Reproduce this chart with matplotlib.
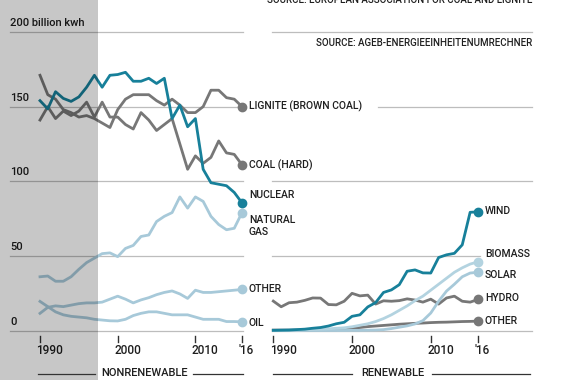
import matplotlib
matplotlib.use('Agg')
import matplotlib.pyplot as plt
from matplotlib.lines import Line2D

plt.rcParams['font.family'] = ['Roboto', 'DejaVu Sans']
plt.rcParams['font.weight'] = 'medium'

# --- data (billion kWh), 1990-2016 ---
years = list(range(1990, 2017))

# nonrenewable
nuclear = [154, 148.5, 160, 155.5, 153.5, 156.5, 163, 171, 163, 171, 171.5, 173, 167, 167, 169, 165.5,
           169, 142, 151, 136.5, 142, 108, 99, 98, 97, 92.5, 85.5]
lignite = [171, 158, 155, 148, 146, 143, 144, 142, 139, 136, 148, 155, 158, 158, 158, 154,
           151, 155, 151, 146, 146, 150, 161, 161, 156, 155, 150]
coal = [141, 150, 142, 147, 144, 147, 153, 143, 153, 143, 143, 138, 135, 146, 141, 134,
        138, 142, 125, 108, 117, 112, 116, 127, 119, 118, 111]
gas = [36, 36.5, 33, 33, 36, 41, 45.5, 48.5, 51.5, 52, 49.5, 55, 57, 63, 64, 73,
       76.5, 79, 89.5, 82, 89.5, 86.5, 76.5, 71, 67.5, 68.5, 79]
other_nr = [11.5, 15.5, 16.5, 16, 17, 18, 18.5, 18.5, 19, 21, 23, 21, 18.5, 20.5, 22, 24,
            25.5, 26.5, 24.5, 21.5, 27, 25.5, 25.5, 26, 26.5, 27, 27.5]
oil = [19.5, 16, 12.5, 10.5, 9.5, 9, 8.5, 7.5, 7, 6.5, 6.4, 7.5, 10, 11.5, 12.5, 12.5,
       11.5, 10.5, 10.5, 10.5, 9, 7.5, 7.5, 7.5, 6, 6, 5.8]

# renewable
wind = [0.1, 0.2, 0.3, 0.6, 0.9, 1.5, 2.0, 3.0, 4.5, 5.5, 9.5, 10.5, 15.8, 18.7, 25.5, 27.2,
        30.7, 39.7, 40.6, 38.6, 38.5, 48.9, 50.7, 51.7, 57.4, 79.2, 79.5]
biomass = [0.2, 0.3, 0.4, 0.5, 0.6, 0.7, 0.9, 1.1, 1.5, 1.8, 2.5, 3.5, 4.5, 6, 8, 10.5,
           13.5, 16.5, 20, 23, 27, 31, 35, 39, 42, 44.5, 46]
solar = [0, 0, 0, 0, 0, 0, 0, 0, 0, 0, 0.1, 0.1, 0.2, 0.3, 0.6, 1.3,
         2.2, 3.1, 4.4, 6.6, 11.7, 19.6, 26.4, 31, 36, 38.5, 39]
hydro = [19.7, 15.9, 18.6, 19.0, 20.2, 21.8, 21.7, 17.4, 17.2, 19.6, 24.9, 23.2, 23.7, 17.7, 19.9, 19.6,
         20.0, 21.2, 20.4, 19.0, 21.0, 17.7, 21.8, 23.0, 19.6, 19.0, 20.8]
other_r = [0.3, 0.3, 0.3, 0.4, 0.4, 0.4, 0.5, 0.5, 0.5, 1.0, 1.5, 2.0, 2.6, 3.0, 3.4, 3.8,
           4.2, 4.5, 4.8, 5.0, 5.3, 5.5, 5.6, 5.8, 6.0, 6.1, 6.3]

grid_vals = [200, 150, 100, 50, 0]
grid_labels = ['200 billion kwh', '150', '100', '50', '0']
tick_years = [1990, 2000, 2010, 2016]
tick_labels = ['1990', '2000', '2010', "'16"]

TEAL = '#17809a'
GRAY = '#777777'
LIGHT = '#a7c9d9'
LIGHT2 = '#b3d3e0'
GRID = '#bdbdbd'
TXT = '#1e1e1e'

W, H = 563, 380
fig = plt.figure(figsize=(W / 100, H / 100), dpi=100)

# pixel geometry of the two panels
ppu = 1.4925           # px per billion kwh
y0px = 330.5           # px of value 0
ylim = (-(H - y0px) / ppu, y0px / ppu)

axL = fig.add_axes([0, 0, 250 / W, 1])
axR = fig.add_axes([250 / W, 0, (W - 250) / W, 1])
pxyL, x90L = 7.77, 40.0
pxyR, x90R = 7.873, 273.3
axL.set_xlim(1990 - x90L / pxyL, 1990 + (250 - x90L) / pxyL)
axR.set_xlim(1990 - (x90R - 250) / pxyR, 1990 + (W - x90R) / pxyR)
for ax in (axL, axR):
    ax.set_ylim(*ylim)
    ax.axis('off')
    ax.patch.set_alpha(0)


def yrL(px):
    return 1990 + (px - x90L) / pxyL


def yrR(px):
    return 1990 + (px - x90R) / pxyR


# gridlines
for v in grid_vals:
    axL.plot([yrL(10), yrL(243)], [v, v], color=GRID, lw=0.9, zorder=1)
axR.plot([yrR(271.5), yrR(532)], [200, 200], color=GRID, lw=0.9, zorder=1)
axR.plot([yrR(378), yrR(532)], [150, 150], color=GRID, lw=0.9, zorder=1)
axR.plot([yrR(271.5), yrR(532)], [100, 100], color=GRID, lw=0.9, zorder=1)
axR.plot([yrR(271.5), yrR(480)], [50, 50], color=GRID, lw=0.9, zorder=1)
axR.plot([yrR(271.5), yrR(532)], [0, 0], color=GRID, lw=0.9, zorder=1)

for v, lab in zip(grid_vals, grid_labels):
    axL.text(yrL(10), v + 6, lab, fontsize=8, color=TXT, ha='left', va='center')

# ticks + tick labels
for ax in (axL, axR):
    for yr, lab in zip(tick_years, tick_labels):
        ax.plot([yr, yr], [-3.9, -7.7], color='#333333', lw=1)
        ax.annotate(lab, (yr, -13.1), xytext=(-2.6, 0), textcoords='offset points',
                    fontsize=8.5, color=TXT, ha='left', va='center')


def series(ax, vals, color, label, dy=0, va='center', z=3):
    ax.plot(years, vals, color=color, lw=2, zorder=z, solid_joinstyle='round')
    ax.plot(years[-1], vals[-1], 'o', color=color, ms=6, zorder=z)
    ax.annotate(label, (years[-1], vals[-1]), xytext=(5, dy), textcoords='offset points',
                fontsize=7.5, color=TXT, ha='left', va=va, linespacing=1.15,
                annotation_clip=False)


series(axL, lignite, GRAY, 'LIGNITE (BROWN COAL)')
series(axL, coal, GRAY, 'COAL (HARD)')
series(axL, gas, LIGHT, 'NATURAL\nGAS', dy=-2, va='top')
series(axL, other_nr, LIGHT, 'OTHER')
series(axL, oil, LIGHT, 'OIL', dy=-0.5)
series(axL, nuclear, TEAL, 'NUCLEAR', dy=5.5, z=4)

series(axR, hydro, GRAY, 'HYDRO', dy=1)
series(axR, other_r, GRAY, 'OTHER')
series(axR, solar, LIGHT, 'SOLAR', dy=-2)
series(axR, biomass, LIGHT2, 'BIOMASS', dy=5.5)
series(axR, wind, TEAL, 'WIND', dy=0.5, z=4)

# grey shading over the early years
axL.axvspan(axL.get_xlim()[0], yrL(98.3), color='black', alpha=0.22, lw=0, zorder=10)


def fx(px):
    return px / W


def fy(py):
    return 1 - py / H


# section labels
fig.text(fx(145), fy(373), 'NONRENEWABLE', fontsize=8, color=TXT, ha='center', va='center')
fig.text(fx(392.5), fy(373), 'RENEWABLE', fontsize=8, color=TXT, ha='center', va='center')
for a, b in ((37.7, 95), (193.3, 242.7), (273.3, 351.7), (431.7, 530)):
    fig.add_artist(Line2D([fx(a), fx(b)], [fy(373.5), fy(373.5)], color='#333333', lw=0.9))

# sources (the upper one is cut by the top edge, as in the original)
fig.text(fx(532), fy(0), 'SOURCE: EUROPEAN ASSOCIATION FOR COAL AND LIGNITE',
         fontsize=7, color=TXT, ha='right', va='center')
fig.text(fx(532), fy(43), 'SOURCE: AGEB-ENERGIEEINHEITENUMRECHNER',
         fontsize=7, color=TXT, ha='right', va='center')

fig.savefig('out.png', dpi=100)
